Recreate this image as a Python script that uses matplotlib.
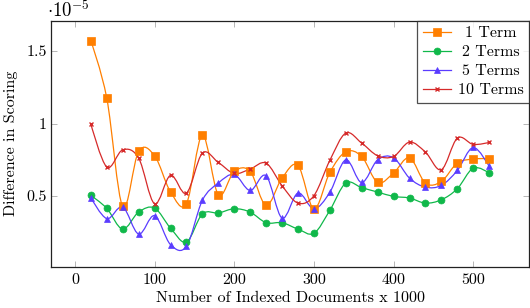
import matplotlib
matplotlib.use("Agg")
import matplotlib.pyplot as plt
import numpy as np
from matplotlib.path import Path
from matplotlib.patches import PathPatch
from matplotlib.lines import Line2D
from matplotlib.transforms import Affine2D

plt.rcParams['font.family'] = ['cmr10', 'DejaVu Serif']
plt.rcParams['mathtext.fontset'] = 'cm'
plt.rcParams['axes.formatter.use_mathtext'] = True
plt.rcParams['axes.unicode_minus'] = False

docs = [20, 40, 60, 80, 100, 120, 140, 160, 180, 200, 220, 240, 260, 280,
        300, 320, 340, 360, 380, 400, 420, 440, 460, 480, 500, 520]
term1 = [1.569, 1.175, 0.429, 0.808, 0.778, 0.530, 0.448, 0.920, 0.510, 0.670,
         0.670, 0.436, 0.624, 0.711, 0.413, 0.663, 0.805, 0.773, 0.594, 0.659,
         0.764, 0.590, 0.601, 0.728, 0.755, 0.759]
term2 = [0.505, 0.416, 0.273, 0.390, 0.418, 0.280, 0.184, 0.377, 0.384, 0.413,
         0.390, 0.317, 0.317, 0.273, 0.244, 0.402, 0.590, 0.558, 0.528, 0.498,
         0.487, 0.452, 0.475, 0.551, 0.693, 0.659]
term5 = [0.490, 0.345, 0.425, 0.239, 0.365, 0.166, 0.154, 0.471, 0.590, 0.649,
         0.539, 0.640, 0.349, 0.521, 0.413, 0.526, 0.750, 0.594, 0.750, 0.764,
         0.624, 0.562, 0.574, 0.677, 0.835, 0.704]
term10 = [0.998, 0.700, 0.819, 0.762, 0.448, 0.643, 0.521, 0.796, 0.732, 0.656,
          0.686, 0.727, 0.572, 0.452, 0.503, 0.746, 0.934, 0.865, 0.778, 0.773,
          0.872, 0.803, 0.682, 0.899, 0.856, 0.870]
labels = ['1 Term', '2 Terms', '5 Terms', '10 Terms']
xticks = [0, 100, 200, 300, 400, 500]
yticks = [0.5, 1.0, 1.5]
ytick_labels = ['0.5', '1', '1.5']

series = [term1, term2, term5, term10]
colors = ['#ff7f00', '#10b84a', '#5a3cff', '#d62a2a']
markers = ['s', 'o', '^', 'x']
msizes = [5.5, 5.0, 5.0, 3.5]
FS = 11.5


def smooth_path(x, y, t=0.17):
    p = np.column_stack([x, y]).astype(float)
    n = len(p)
    verts = [tuple(p[0])]
    codes = [Path.MOVETO]
    for i in range(n - 1):
        p1, p2 = p[i], p[i + 1]
        p0 = p[i - 1] if i > 0 else None
        p3 = p[i + 2] if i + 2 < n else None
        c1 = p1 if p0 is None else p1 + t * (p2 - p0)
        c2 = p2 if p3 is None else p2 - t * (p3 - p1)
        verts += [tuple(c1), tuple(c2), tuple(p2)]
        codes += [Path.CURVE4] * 3
    return Path(verts, codes)


fig = plt.figure(figsize=(5.30, 3.08), dpi=100)
ax = fig.add_axes([51 / 530, 1 - 266.7 / 308, (529 - 51) / 530, (266.7 - 20.7) / 308])

handles = []
for ys, c, m, ms, lab in zip(series, colors, markers, msizes, labels):
    path = smooth_path(docs, ys)
    ax.add_patch(PathPatch(path, fill=False, edgecolor=c, lw=0.9, zorder=2))
    ax.plot(docs, ys, linestyle='none', marker=m, color=c, markersize=ms,
            markeredgewidth=1.0 if m == 'x' else 0.5, zorder=3)
    handles.append(Line2D([], [], color=c, lw=0.9, marker=m, markersize=ms,
                          markeredgewidth=1.0 if m == 'x' else 0.5))

ax.set_xlim(-30, 570)
ax.set_ylim(0.014, 1.708)
ax.set_xticks(xticks)
ax.set_xticklabels([str(v) for v in xticks])
ax.set_yticks(yticks)
ax.set_yticklabels(ytick_labels)
ax.tick_params(direction='in', length=4, width=0.6, color='#aaaaaa',
               top=True, right=True, labelsize=FS)
ax.tick_params(axis='x', pad=4.5)
ax.tick_params(axis='y', pad=3)
for s in ax.spines.values():
    s.set_linewidth(0.9)
    s.set_color('#222222')

ax.set_xlabel('Number of Indexed Documents x 1000', fontsize=FS, labelpad=3)
ax.set_ylabel('Difference in Scoring', fontsize=FS, labelpad=6)
fig.text(47 / 530, 1 - 0.5 / 308, r'$\cdot 10^{-5}$', fontsize=13.5, va='top', ha='left')

leg = ax.legend(handles, labels, loc='upper right', borderaxespad=0,
                fontsize=FS, frameon=True, fancybox=False, handlelength=1.8,
                handletextpad=0.4, borderpad=0.35, labelspacing=0.3)
leg.get_frame().set_edgecolor('#222222')
leg.get_frame().set_linewidth(0.9)

fig.canvas.draw()
r = fig.canvas.get_renderer()
texts = leg.get_texts()
widths = [t.get_window_extent(r).width for t in texts]
maxw = max(widths)
for t, w in zip(texts, widths):
    t.set_transform(t.get_transform() + Affine2D().translate((maxw - w) / 2, 0))

fig.savefig('out.png', dpi=100)
